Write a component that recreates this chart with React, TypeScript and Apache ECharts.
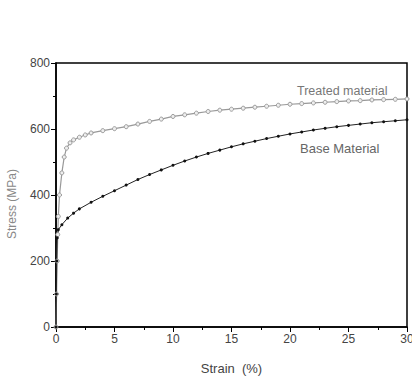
import React, { useEffect, useRef } from "react";
import * as echarts from "echarts";

const treatedStrain = [0, 0.05, 0.1, 0.15, 0.2, 0.3, 0.5, 0.7, 0.9, 1.2, 1.5, 2, 2.5, 3, 4, 5, 6, 7, 8, 9, 10, 11, 12, 13, 14, 15, 16, 17, 18, 19, 20, 21, 22, 23, 24, 25, 26, 27, 28, 29, 30];
const treatedStress = [0, 100, 200, 280, 335, 400, 467, 515, 542, 558, 567, 575, 582, 588, 595, 601, 607, 615, 623, 630, 638, 643, 648, 653, 657, 660, 663, 666, 669, 672, 675, 677, 679, 681, 683, 685, 686, 688, 689, 690, 691];

const baseStrain = [0, 0.03, 0.06, 0.1, 0.2, 0.5, 1, 1.5, 2, 3, 4, 5, 6, 7, 8, 9, 10, 11, 12, 13, 14, 15, 16, 17, 18, 19, 20, 21, 22, 23, 24, 25, 26, 27, 28, 29, 30];
const baseStress = [0, 100, 200, 270, 295, 310, 330, 345, 358, 378, 396, 413, 430, 447, 462, 476, 490, 503, 515, 526, 536, 546, 555, 563, 571, 578, 585, 591, 597, 602, 607, 611, 615, 619, 622, 625, 628];

const xTicks = [0, 5, 10, 15, 20, 25, 30];
const yTicks = [0, 200, 400, 600, 800];

const font = "Liberation Sans, Arial, sans-serif";

export default function App() {
  const ref = useRef<HTMLDivElement>(null);
  useEffect(() => {
    document.body.style.margin = "0";
    document.body.style.overflow = "hidden";
    const chart = echarts.init(ref.current!, null, { renderer: "svg" });
    chart.setOption({
      animation: false,
      backgroundColor: "#fff",
      grid: {
        left: 56, right: 5, top: 63, bottom: 49,
        outerBoundsMode: "none", containLabel: false,
        show: true, borderColor: "#000", borderWidth: 1.5, backgroundColor: "transparent",
      },
      xAxis: {
        type: "value",
        min: xTicks[0],
        max: xTicks[xTicks.length - 1],
        interval: 5,
        name: "Strain  (%)",
        nameLocation: "middle",
        nameGap: 35,
        nameTextStyle: { fontFamily: font, fontSize: 13, color: "#444" },
        axisLine: { show: true, lineStyle: { color: "#000", width: 1.5 } },
        axisTick: { show: true, length: 5, lineStyle: { color: "#000" } },
        minorTick: { show: true, splitNumber: 2, length: 3, lineStyle: { color: "#000" } },
        splitLine: { show: false },
        axisLabel: { fontFamily: font, fontSize: 12, color: "#444", margin: 6 },
      },
      yAxis: {
        type: "value",
        min: yTicks[0],
        max: yTicks[yTicks.length - 1],
        interval: 200,
        axisLine: { show: true, lineStyle: { color: "#000", width: 1.5 } },
        axisTick: { show: true, length: 5, lineStyle: { color: "#000" } },
        minorTick: { show: true, splitNumber: 2, length: 3, lineStyle: { color: "#000" } },
        splitLine: { show: false },
        axisLabel: { fontFamily: font, fontSize: 12, color: "#444", margin: 6 },
      },
      graphic: [
        { type: "text", x: 12, y: 204, rotation: Math.PI / 2, style: { text: "Stress (MPa)", fontFamily: font, fontSize: 12, fill: "#888", align: "center", verticalAlign: "middle" } },
        { type: "text", x: 297, y: 84, style: { text: "Treated material", fontFamily: font, fontSize: 12.5, fill: "#777" } },
        { type: "text", x: 300, y: 142, style: { text: "Base Material", fontFamily: font, fontSize: 13, fill: "#666" } },
      ],
      series: [
        {
          name: "Treated material",
          type: "line",
          data: treatedStrain.map((s, i) => [s, treatedStress[i]]),
          symbol: "circle",
          symbolSize: 4,
          showAllSymbol: true,
          lineStyle: { color: "#999", width: 1.2 },
          itemStyle: { color: "#eee", borderColor: "#999", borderWidth: 1 },
        },
        {
          name: "Base Material",
          type: "line",
          data: baseStrain.map((s, i) => [s, baseStress[i]]),
          symbol: "circle",
          symbolSize: 3,
          showAllSymbol: true,
          lineStyle: { color: "#222", width: 1 },
          itemStyle: { color: "#111" },
        },
      ],
    });
    return () => chart.dispose();
  }, []);
  return <div ref={ref} style={{ position: "absolute", left: 0, top: 0, width: 412, height: 376 }} />;
}
